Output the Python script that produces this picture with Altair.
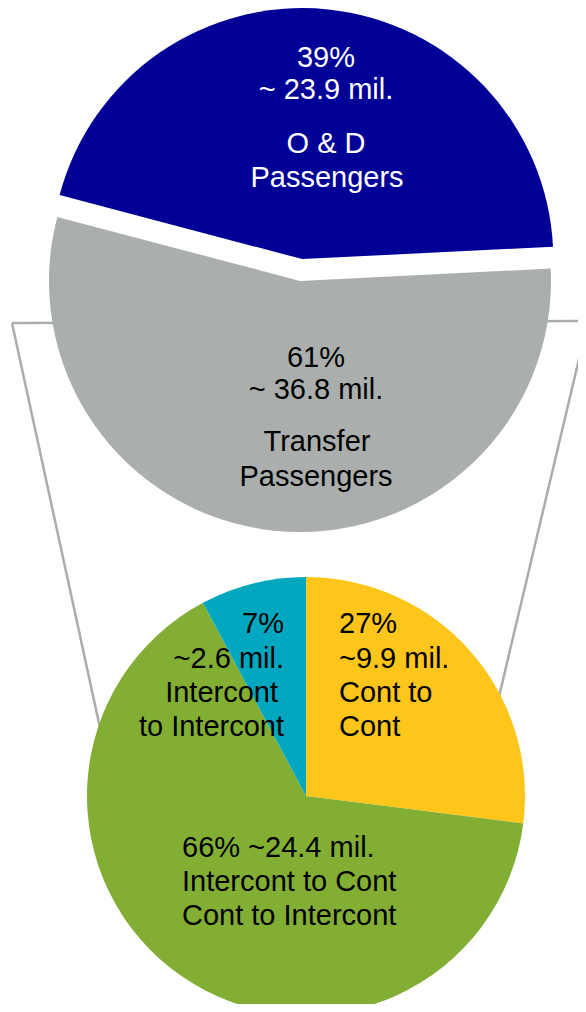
import altair as alt
import numpy as np
import pandas as pd

# ---------------- data ----------------
# Upper pie: all passengers
top_names = ["O & D Passengers", "Transfer Passengers"]
top_pct_labels = ["39%", "61%"]
top_mil_labels = ["~ 23.9 mil.", "~ 36.8 mil."]
top_cat_labels = [["O & D", "Passengers"], ["Transfer", "Passengers"]]
top_share_drawn = [45.1, 54.9]          # angular share as drawn in the picture
top_colors = ["#000096", "#AAAFAE"]
top_text_colors = ["#FFFFFF", "#000000"]

# Lower pie: breakdown of transfer passengers
bottom_names = ["Cont to Cont", "Intercont to Cont / Cont to Intercont", "Intercont to Intercont"]
bottom_share_drawn = [27.0, 65.2, 7.8]
bottom_colors = ["#FEC61A", "#83AE34", "#00A7BF"]
bottom_label_lines = [
    ["27%", "~9.9 mil.", "Cont to", "Cont"],
    ["66% ~24.4 mil.", "Intercont to Cont", "Cont to Intercont"],
    ["7%", "~2.6 mil.", "Intercont", "to Intercont"],
]

# ---------------- layout (pixel space of the 586x1012 page) ----------------
W, H = 570, 996
FONT = "Liberation Sans"
FS = 29
xs = alt.Scale(domain=[8, 578], range=[0, W])
ys = alt.Scale(domain=[8, 1004], range=[0, H])

TOP = dict(cx=300, cy=281, r=251, start=-75.2, explode=[22, 0])
BOT = dict(cx=306, cy=796, r=219, start=0.0, explode=[0, 0, 0])


def pie_rows(names, shares, colors, cfg):
    rows = []
    acc = cfg["start"]
    total = float(sum(shares))
    for n, s, c, e in zip(names, shares, colors, cfg["explode"]):
        span = 360.0 * s / total
        a0, a1 = acc, acc + span
        mid = np.radians((a0 + a1) / 2)
        rows.append(dict(name=n,
                         cx=cfg["cx"] + e * np.sin(mid),
                         cy=cfg["cy"] - e * np.cos(mid),
                         t0=np.radians(a0), t1=np.radians(a1),
                         r=cfg["r"], color=c))
        acc = a1
    return rows


arcs = pd.DataFrame(pie_rows(top_names, top_share_drawn, top_colors, TOP)
                    + pie_rows(bottom_names, bottom_share_drawn, bottom_colors, BOT))

# connector lines behind the pies
segments = pd.DataFrame(dict(
    x=[12, 12, 588], y=[323, 323, 321],
    x2=[588, 107, 484], y2=[321, 760, 760]))

# text labels (baseline positions)
top_label_pos = [
    dict(x=[326, 326, 326, 327], y=[67, 99, 153, 187]),
    dict(x=[316, 316, 317, 316], y=[367, 399, 451, 486]),
]
rows_c = []
for i in range(2):
    lines = [top_pct_labels[i], top_mil_labels[i]] + top_cat_labels[i]
    for t, x, y in zip(lines, top_label_pos[i]["x"], top_label_pos[i]["y"]):
        rows_c.append(dict(text=t, x=x, y=y, color=top_text_colors[i]))
labels_center = pd.DataFrame(rows_c)

rows_l = []
for t, y in zip(bottom_label_lines[0], [633, 668, 702, 736]):
    rows_l.append(dict(text=t, x=339, y=y, color="#000000"))
for t, y in zip(bottom_label_lines[1], [857, 891, 925]):
    rows_l.append(dict(text=t, x=182, y=y, color="#000000"))
labels_left = pd.DataFrame(rows_l)

rows_r = []
for t, x, y in zip(bottom_label_lines[2], [284, 284, 278, 284], [633, 668, 702, 736]):
    rows_r.append(dict(text=t, x=x, y=y, color="#000000"))
labels_right = pd.DataFrame(rows_r)

X = lambda f: alt.X(f, type="quantitative", scale=xs, axis=None)
Y = lambda f: alt.Y(f, type="quantitative", scale=ys, axis=None)

lines = alt.Chart(segments).mark_rule(color="#A9AEAD", strokeWidth=2.5).encode(
    x=X("x"), y=Y("y"), x2="x2:Q", y2="y2:Q")

pies = alt.Chart(arcs).mark_arc(stroke=None).encode(
    x=X("cx"), y=Y("cy"),
    theta=alt.Theta("t0:Q", scale=None, stack=False),
    theta2="t1:Q",
    radius=alt.Radius("r:Q", scale=None),
    color=alt.Color("color:N", scale=None),
)


def text_layer(df, align):
    return alt.Chart(df).mark_text(align=align, baseline="alphabetic", font=FONT, fontSize=FS).encode(
        x=X("x"), y=Y("y"), text="text:N", color=alt.Color("color:N", scale=None))


chart = alt.layer(
    lines, pies,
    text_layer(labels_center, "center"),
    text_layer(labels_left, "left"),
    text_layer(labels_right, "right"),
).properties(
    width=W, height=H, padding=0, autosize=alt.AutoSizeParams(type="none"),
    background="white",
).configure_view(stroke=None)

chart.save("out.html", embed_options={"renderer": "svg", "actions": False})
